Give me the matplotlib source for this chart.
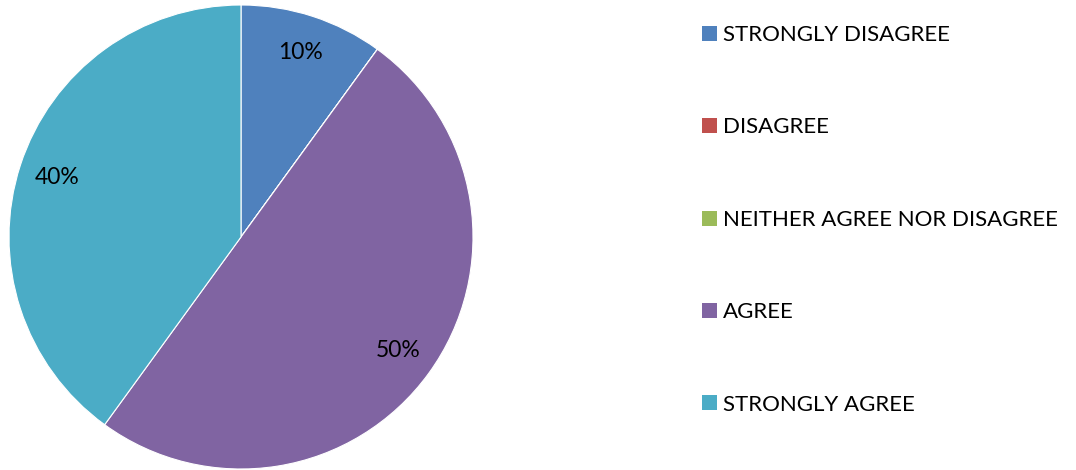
import matplotlib
matplotlib.use("Agg")
import matplotlib.pyplot as plt
from matplotlib.patches import Patch

plt.rcParams['font.family'] = ['Lato', 'DejaVu Sans']

labels = ['STRONGLY DISAGREE', 'DISAGREE', 'NEITHER AGREE NOR DISAGREE', 'AGREE', 'STRONGLY AGREE']
values = [10, 0, 0, 50, 40]
colors = ['#4F81BD', '#C0504D', '#9BBB59', '#8064A2', '#4BACC6']


def pct(p):
    return '%d%%' % round(p) if p > 0.5 else ''


fig = plt.figure(figsize=(10.76, 4.70), dpi=100)
ax = fig.add_axes([9 / 1076, 1 / 470, 464 / 1076, 464 / 470])
ax.pie(values, colors=colors, startangle=90, counterclock=False,
       autopct=pct, pctdistance=0.835,
       wedgeprops=dict(edgecolor='white', linewidth=0.8),
       textprops=dict(fontsize=16.5, color='black'))
ax.set_xlim(-1, 1)
ax.set_ylim(-1, 1)
ax.set_aspect('equal')

handles = [Patch(facecolor=c, edgecolor='none') for c in colors]
fig.legend(handles, labels, loc='upper left', bbox_to_anchor=(702 / 1076, 1 - 25 / 470),
           frameon=False, fontsize=16, handlelength=0.66, handleheight=0.66,
           handletextpad=0.3, labelspacing=3.26, borderpad=0, borderaxespad=0)

fig.savefig('out.png', dpi=100)
